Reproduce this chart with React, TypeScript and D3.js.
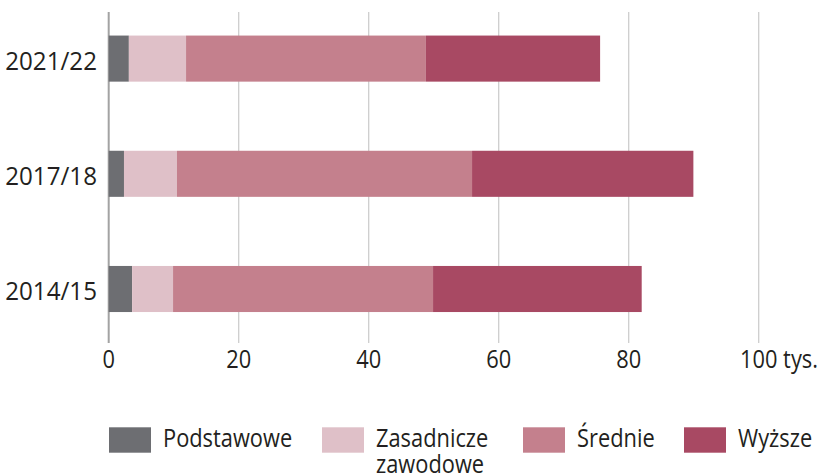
import React, { useLayoutEffect, useRef, useState } from 'react';
import * as d3 from 'd3';

const years = ['2021/22', '2017/18', '2014/15'];
const seriesNames = ['Podstawowe', 'Zasadnicze zawodowe', 'Średnie', 'Wyższe'];
const legendLines = [['Podstawowe'], ['Zasadnicze', 'zawodowe'], ['Średnie'], ['Wyższe']];
const podstawowe = [3.1, 2.35, 3.6];
const zasadnicze = [8.8, 8.15, 6.3];
const srednie = [36.9, 45.4, 40.0];
const wyzsze = [26.8, 34.05, 32.1];
const seriesColors = ['#6d6e72', '#dfc0c8', '#c4808d', '#a84963'];
const tickValues = [0, 20, 40, 60, 80, 100];
const unitLabel = 'tys.';

const W = 823;
const H = 475;
const FONT = '"Open Sans", sans-serif';
const SX = 0.84;
const FS = 26;
const legendX = [109, 322, 523, 684];

function T(props: { x: number; y: number; anchor?: string; children: any; sx?: number }) {
  return (
    <text
      transform={`translate(${props.x},${props.y}) scale(${props.sx || SX},1)`}
      textAnchor={props.anchor || 'start'}
      fontSize={FS}
      fill="#231f20"
    >
      {props.children}
    </text>
  );
}

export default function App() {
  const x = d3.scaleLinear().domain([0, 100]).range([108.7, 758.7]);
  const y = d3.scaleBand<string>().domain(years).range([1, 346.6]).paddingInner(0.6).paddingOuter(0.3);

  const rows = years.map((yr, i) => ({
    year: yr,
    p: podstawowe[i],
    z: zasadnicze[i],
    s: srednie[i],
    w: wyzsze[i],
  }));
  const stack = d3.stack<any>().keys(['p', 'z', 's', 'w']);
  const layers = stack(rows);

  const lastRef = useRef<SVGTSpanElement>(null);
  const [lastW, setLastW] = useState(44);
  useLayoutEffect(() => {
    if (lastRef.current) setLastW(lastRef.current.getComputedTextLength());
  }, []);

  return (
    <svg width={W} height={H} style={{ position: 'absolute', left: 0, top: 0, background: '#fff' }} fontFamily={FONT}>
      {tickValues.map((t) => (
        <line
          key={'g' + t}
          x1={x(t)}
          x2={x(t)}
          y1={12}
          y2={343}
          stroke={t === 0 ? '#a3a3a3' : '#cdcdcd'}
          strokeWidth={t === 0 ? 2 : 1.3}
        />
      ))}
      {layers.map((layer, li) => (
        <g key={'l' + li} fill={seriesColors[li]}>
          {layer.map((d: any, i: number) => (
            <rect
              key={i}
              x={x(d[0])}
              y={y(d.data.year)}
              width={x(d[1]) - x(d[0])}
              height={y.bandwidth()}
            />
          ))}
        </g>
      ))}
      {years.map((yr) => (
        <T key={'y' + yr} x={97} y={(y(yr) as number) + y.bandwidth() / 2 + 11} anchor="end" sx={0.93}>
          {yr}
        </T>
      ))}
      {tickValues.map((t, i) =>
        i === tickValues.length - 1 ? (
          <T key={'t' + t} x={x(t) - (lastW * SX) / 2} y={368.3}>
            <tspan ref={lastRef as any}>{String(t)}</tspan>
            <tspan>{' ' + unitLabel}</tspan>
          </T>
        ) : (
          <T key={'t' + t} x={x(t)} y={368.3} anchor="middle">
            {String(t)}
          </T>
        )
      )}
      {seriesNames.map((name, i) => (
        <g key={'lg' + name}>
          <rect x={legendX[i]} y={427.3} width={42} height={25.4} fill={seriesColors[i]} />
          <T x={legendX[i] + 54} y={447.3}>
            {legendLines[i].map((ln, k) => (
              <tspan key={k} x={0} dy={k === 0 ? 0 : 26}>
                {ln}
              </tspan>
            ))}
          </T>
        </g>
      ))}
    </svg>
  );
}
